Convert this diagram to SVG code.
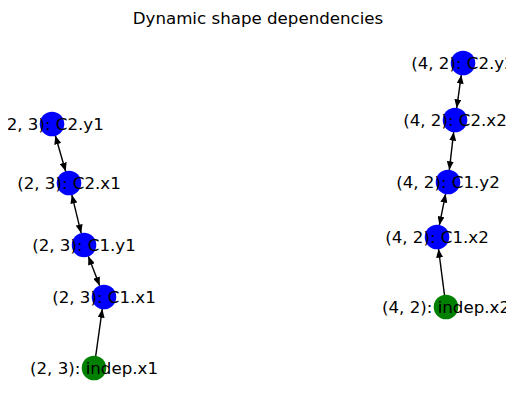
<svg xmlns="http://www.w3.org/2000/svg" width="515" height="411" viewBox="0 0 515 411">
<style>
text{font-family:"DejaVu Sans",sans-serif;font-size:16.67px;fill:#000}
.lbl{text-anchor:middle}
.e{stroke:#000;stroke-width:1.4;fill:none}
.b{fill:#0000ff}
.g{fill:#008000}
</style>
<defs>
<marker id="ah" viewBox="0 0 10 8" refX="10" refY="4" markerWidth="9" markerHeight="7" markerUnits="userSpaceOnUse" orient="auto-start-reverse">
<path d="M0,0 L10,4 L0,8 Z" fill="#000"/>
</marker>
<clipPath id="ax"><rect x="8" y="30" width="498" height="375"/></clipPath>
</defs>
<rect width="515" height="411" fill="#fff"/>
<text x="258" y="24" text-anchor="middle">Dynamic shape dependencies</text>
<g id="connectors">
<line class="e" x1="55.3" y1="135.5" x2="65.7" y2="171.5" marker-start="url(#ah)" marker-end="url(#ah)"/>
<line class="e" x1="71.8" y1="194.7" x2="81.2" y2="233.3" marker-start="url(#ah)" marker-end="url(#ah)"/>
<line class="e" x1="88.3" y1="256.2" x2="99.7" y2="285.8" marker-start="url(#ah)" marker-end="url(#ah)"/>
<line class="e" x1="95.7" y1="356.1" x2="102.3" y2="308.9" marker-end="url(#ah)"/>
<line class="e" x1="461.3" y1="74.9" x2="456.7" y2="108.1" marker-start="url(#ah)" marker-end="url(#ah)"/>
<line class="e" x1="453.7" y1="131.9" x2="449.3" y2="170.1" marker-start="url(#ah)" marker-end="url(#ah)"/>
<line class="e" x1="445.6" y1="193.8" x2="439.4" y2="225.2" marker-start="url(#ah)" marker-end="url(#ah)"/>
<line class="e" x1="444.5" y1="295.1" x2="438.5" y2="248.9" marker-end="url(#ah)"/>
</g>
<g id="n_c2y1"><circle class="b" cx="52" cy="124" r="12.3"/><text class="lbl" x="52" y="130" clip-path="url(#ax)">(2, 3): C2.y1</text></g>
<g id="n_c2x1"><circle class="b" cx="69" cy="183" r="12.3"/><text class="lbl" x="69" y="189" clip-path="url(#ax)">(2, 3): C2.x1</text></g>
<g id="n_c1y1"><circle class="b" cx="84" cy="245" r="12.3"/><text class="lbl" x="84" y="251" clip-path="url(#ax)">(2, 3): C1.y1</text></g>
<g id="n_c1x1"><circle class="b" cx="104" cy="297" r="12.3"/><text class="lbl" x="104" y="303" clip-path="url(#ax)">(2, 3): C1.x1</text></g>
<g id="n_indepx1"><circle class="g" cx="94" cy="368" r="12.3"/><text class="lbl" x="94" y="374" clip-path="url(#ax)">(2, 3): indep.x1</text></g>
<g id="n_c2y2"><circle class="b" cx="463" cy="63" r="12.3"/><text class="lbl" x="463" y="69" clip-path="url(#ax)">(4, 2): C2.y2</text></g>
<g id="n_c2x2"><circle class="b" cx="455" cy="120" r="12.3"/><text class="lbl" x="455" y="126" clip-path="url(#ax)">(4, 2): C2.x2</text></g>
<g id="n_c1y2"><circle class="b" cx="448" cy="182" r="12.3"/><text class="lbl" x="448" y="188" clip-path="url(#ax)">(4, 2): C1.y2</text></g>
<g id="n_c1x2"><circle class="b" cx="437" cy="237" r="12.3"/><text class="lbl" x="437" y="243" clip-path="url(#ax)">(4, 2): C1.x2</text></g>
<g id="n_indepx2"><circle class="g" cx="446" cy="307" r="12.3"/><text class="lbl" x="446" y="313" clip-path="url(#ax)">(4, 2): indep.x2</text></g>
</svg>
